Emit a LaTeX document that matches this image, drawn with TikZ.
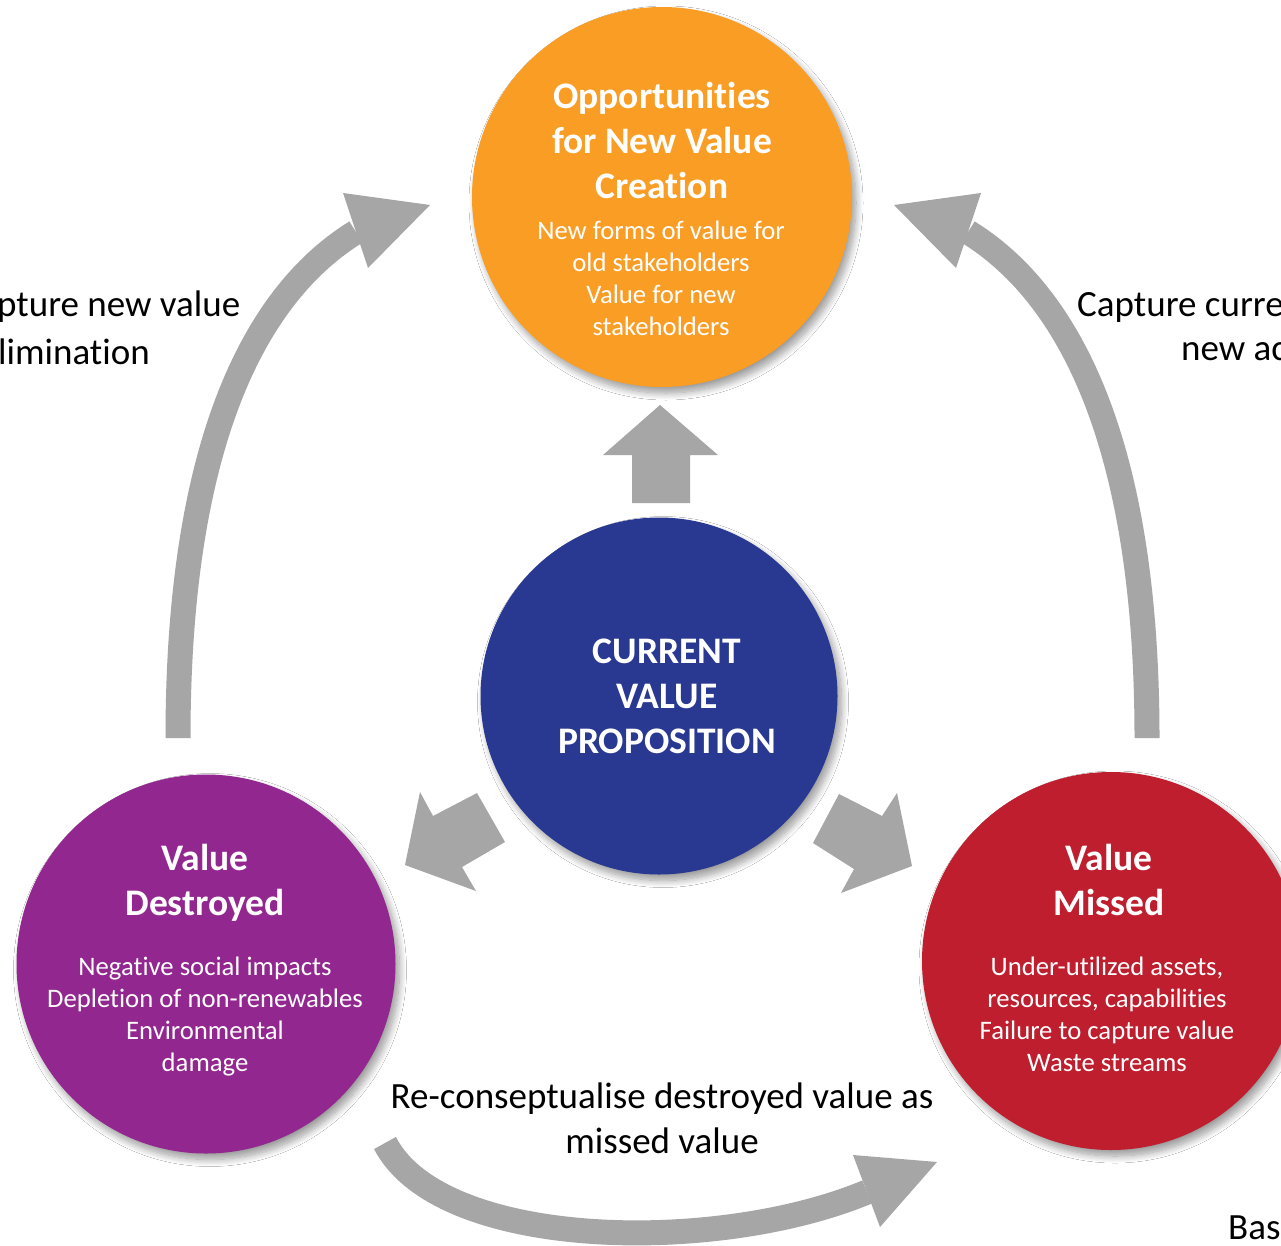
\documentclass[tikz,border=0pt]{standalone}
\usepackage{fontspec}
\setmainfont{Carlito}[Ligatures=CommonOff]
\usetikzlibrary{shadows.blur}
\definecolor{corange}{RGB}{249,157,36}
\definecolor{cblue}{RGB}{41,56,144}
\definecolor{cpurple}{RGB}{146,39,143}
\definecolor{cred}{RGB}{190,30,45}
\definecolor{cgrey}{RGB}{166,166,166}
\tikzset{
  circ/.style={circle, minimum size=#1, inner sep=0pt, draw=none,
    blur shadow={shadow xshift=4pt, shadow yshift=-6pt, shadow blur steps=12, shadow blur radius=7pt, shadow opacity=40}},
  ttl/.style={text=white, align=center, font=\fontsize{37.5}{45}\selectfont\bfseries, inner sep=0pt},
  bdy/.style={text=white, align=center, font=\fontsize{26.7}{32}\selectfont, inner sep=0pt},
  lbl/.style={text=black, align=center, font=\fontsize{37}{45}\selectfont, inner sep=0pt},
  shaft/.style={draw=cgrey, line width=25pt, line cap=butt},
  head/.style={fill=cgrey, draw=none}
}
\begin{document}
\begin{tikzpicture}[x=1pt,y=-1pt]
\useasboundingbox (0,0) rectangle (1281,1245);
\clip (0,0) rectangle (1281,1245);
\fill[white] (0,0) rectangle (1281,1245);

% circles
\node[circ=380pt, fill=corange] (opp) at (662,197) {};
\node[circ=357pt, fill=cblue] (cur) at (659,696) {};
\node[circ=379pt, fill=cpurple] (des) at (206,964) {};
\node[circ=378pt, fill=cred] (mis) at (1111,961) {};

% circle texts
\node[ttl] (oppT) at (662,140) {Opportunities\\for New Value\\Creation};
\node[bdy] (oppB) at (661,278) {New forms of value for\\old stakeholders\\Value for new\\stakeholders};
\node[ttl] (curT) at (667,696) {CURRENT\\VALUE\\PROPOSITION};
\node[ttl] (desT) at (205,883) {Value\\Destroyed};
\node[bdy] (desB) at (205,1017) {Negative social impacts\\Depletion of non-renewables\\Environmental\\damage};
\node[ttl] (misT) at (1109,880) {Value\\Missed};
\node[bdy] (misB) at (1107,1014) {Under-utilized assets,\\resources, capabilities\\Failure to capture value\\Waste streams};

% block arrows
\fill[cgrey] (632,503) -- (632,455) -- (603,455) -- (660,405) -- (718,455) -- (690,455) -- (690,503) -- cycle;
\fill[cgrey] (405,865) -- (420,792) -- (433,816) -- (477,793) -- (505,842) -- (462,867) -- (476,891) -- cycle;
\fill[cgrey] (912,866) -- (897,793) -- (882,816) -- (839,794) -- (813,843) -- (854,869) -- (841,893) -- cycle;

% curved arrows
\coordinate (lS) at (178,738);
\coordinate (lE) at (356,232);
\draw[shaft] (lS) .. controls (178,430) and (262,290) .. (lE);
\fill[head] (343,193) -- (430,205) -- (368,268) -- cycle;

\coordinate (rS) at (1147,738);
\coordinate (rE) at (968,232);
\draw[shaft] (rS) .. controls (1147,430) and (1062,290) .. (rE);
\fill[head] (981,193) -- (894,205) -- (956,268) -- cycle;

\coordinate (bS) at (385,1143);
\coordinate (bE) at (867,1192);
\draw[shaft] (bS) .. controls (440,1250) and (716,1255) .. (bE);
\fill[head] (853,1155) -- (937,1162) -- (880,1227) -- cycle;

% labels
\node[lbl, anchor=west] (l1) at (-3,307) {pture new value};
\node[lbl, anchor=west] (l2) at (-2,352) {limination};
\node[lbl, anchor=west] (r1) at (1077,307) {Capture curre};
\node[lbl, anchor=west] (r2) at (1181,352) {new ac};
\node[lbl] (bot) at (662,1118) {Re-conseptualise destroyed value as\\missed value};
\node[lbl, anchor=west] (bas) at (1228,1228) {Bas};
\end{tikzpicture}
\end{document}
